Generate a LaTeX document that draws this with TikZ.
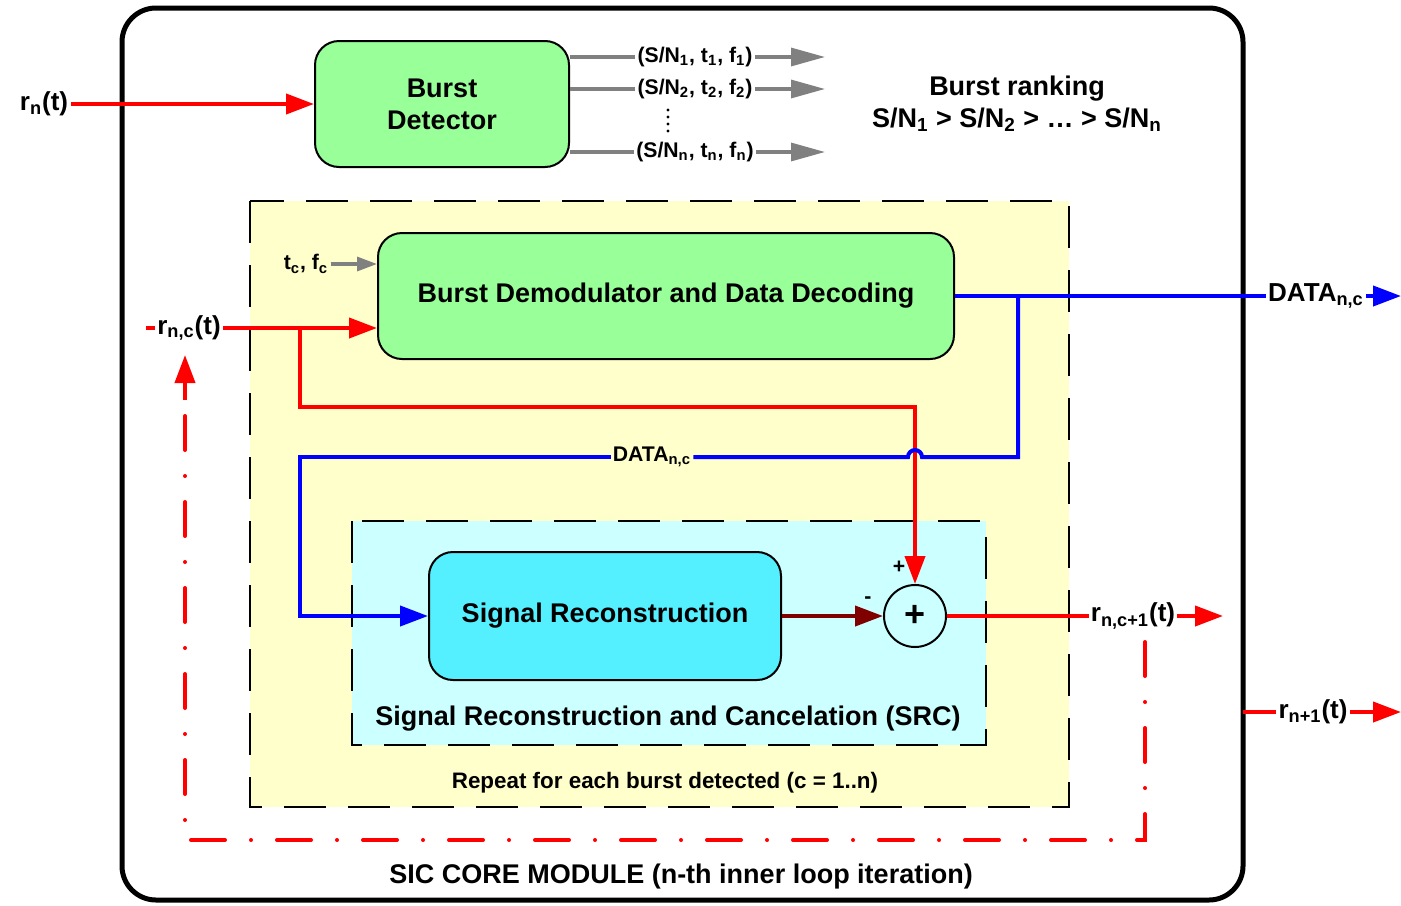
\documentclass[tikz,border=0pt]{standalone}
\usepackage{fontspec}
\setmainfont{Liberation Sans}
\usetikzlibrary{arrows.meta}
\definecolor{detgreen}{HTML}{99FF99}
\definecolor{reconcyan}{HTML}{55F0FF}
\definecolor{areayellow}{HTML}{FFFFCC}
\definecolor{areacyan}{HTML}{CCFFFF}
\definecolor{darkred}{HTML}{800000}
\definecolor{sigred}{HTML}{FF0000}
\definecolor{datablue}{HTML}{0000FF}
\definecolor{infogray}{HTML}{808080}
\tikzset{%
  >={Triangle[length=14pt,width=10pt]},
  % Specifications for style of nodes:
          base/.style = {rectangle, rounded corners=12pt, draw=black,
                         line width=1pt, text centered, align=center,
                         font=\bfseries\fontsize{13.5}{16}\selectfont},
      detector/.style = {base, fill=detgreen, minimum width=127pt,
                         minimum height=63pt},
         demod/.style = {base, fill=detgreen, minimum width=288pt,
                         minimum height=63pt},
         recon/.style = {base, fill=reconcyan, minimum width=176pt,
                         minimum height=64pt},
         adder/.style = {circle, draw=black, line width=1pt, minimum size=31pt,
                         inner sep=0pt, font=\bfseries\fontsize{18}{18}\selectfont},
        signal/.style = {inner sep=1pt, font=\bfseries\fontsize{13}{15}\selectfont},
         small/.style = {inner sep=1pt, font=\bfseries\fontsize{10.6}{12}\selectfont},
       caption/.style = {inner sep=1pt, font=\bfseries\fontsize{13.5}{15}\selectfont},
  % Specifications for style of lines:
        module/.style = {draw=black, line width=2.5pt, rounded corners=17pt},
   repeatarea/.style = {draw=black, fill=areayellow, line width=1.3pt,
                         dash pattern=on 21pt off 11pt},
       srcarea/.style = {draw=black, fill=areacyan, line width=1.3pt,
                         dash pattern=on 21pt off 11pt},
       redline/.style = {draw=sigred, line width=2pt},
      redarrow/.style = {redline, ->},
      blueline/.style = {draw=datablue, line width=2pt},
     bluearrow/.style = {blueline, ->},
      grayline/.style = {draw=infogray, line width=1.6pt},
     grayarrow/.style = {grayline, -{Triangle[length=17pt,width=9pt]}},
    darkarrow/.style = {draw=darkred, line width=2pt, ->},
      feedback/.style = {draw=sigred, line width=2pt, line cap=round,
                         dash pattern=on 17pt off 13pt on 0pt off 13pt},
}

\begin{document}
\begin{tikzpicture}[x=0.5pt, y=-0.5pt]
    \useasboundingbox (0,0) rectangle (1401,905);

    % module and loop areas
    \draw[module]     (122,8) rectangle (1243,900);
    \draw[repeatarea] (250,201) rectangle (1069,807);
    \draw[srcarea]    (352,521) rectangle (986,745);

    \node (sic)      [caption] at (681,877) {SIC CORE MODULE (n-th inner loop iteration)};
    \node (repeat)   [small, font=\bfseries\fontsize{11.2}{12}\selectfont]
                               at (665,783) {Repeat for each burst detected (c = 1..n)};
    \node (srclabel) [caption] at (668,719) {Signal Reconstruction and Cancelation (SRC)};

    % blocks
    \node (detector) [detector] at (442,104) {Burst\\Detector};
    \node (demod)    [demod]    at (666,296) {Burst Demodulator and Data Decoding};
    \node (recon)    [recon]    at (605,616) {Signal Reconstruction};
    \node (sum)      [adder]    at (915,616) {+};
    \node (plus)     [small]    at (899,567) {+};
    \node (minus)    [small]    at (868,600) {-};

    % burst detector
    \node (rn)       [signal]   at (44,104) {r\textsubscript{n}(t)};
    \draw[redarrow] (rn.east) -- (detector.west);

    \node (sn1) [small] at (695,57)  {(S/N\textsubscript{1}, t\textsubscript{1}, f\textsubscript{1})};
    \node (sn2) [small] at (695,89)  {(S/N\textsubscript{2}, t\textsubscript{2}, f\textsubscript{2})};
    \node (snn) [small] at (695,152) {(S/N\textsubscript{n}, t\textsubscript{n}, f\textsubscript{n})};
    \foreach \y in {110,117,124,131}
        \fill[black] (668,\y) circle[radius=1.6];
    \coordinate (out1) at (825,57);
    \coordinate (out2) at (825,89);
    \coordinate (outn) at (825,152);
    \foreach \s/\o in {sn1/out1, sn2/out2, snn/outn} {
        \draw[grayline] (detector.east |- \s) -- (\s.west);
        \draw[grayarrow] (\s.east) -- (\o);
    }
    \node (ranking) [caption, align=center, font=\bfseries\fontsize{13.5}{16}\selectfont]
        at (1017,104) {Burst ranking\\S/N\textsubscript{1} > S/N\textsubscript{2} > \dots\ > S/N\textsubscript{n}};

    % demodulator inputs
    \node (tcfc) [small] at (306,264) {t\textsubscript{c}, f\textsubscript{c}};
    \draw[grayline, -{Triangle[length=10pt,width=7pt]}]
        (tcfc.east) -- (tcfc.east -| demod.west);

    \node (rnc) [signal] at (189,328) {r\textsubscript{n,c}(t)};
    \coordinate (rncin) at (146,328);
    \draw[redline] (rncin) -- (rnc.west);
    \draw[redarrow] (rnc.east) -- (rnc.east -| demod.west);
    \coordinate (split) at (300,328);
    \draw[redarrow] (split) -- (300,407) -| (sum.north);

    % decoded data
    \node (dataout) [signal] at (1316,296) {DATA\textsubscript{n,c}};
    \coordinate (dataend) at (1401,296);
    \draw[blueline] (demod.east) -- (dataout.west);
    \draw[bluearrow] (dataout.east) -- (dataend);

    \node (datain) [small, fill=areayellow] at (652,457) {DATA\textsubscript{n,c}};
    \coordinate (tap) at (1018,296);
    \draw[blueline] (tap) -- (1018,457) -- (922,457)
        arc[start angle=0, end angle=-180, radius=7] -- (datain.east);
    \draw[bluearrow] (datain.west) -- (300,457) |- (recon.west);

    % cancellation
    \draw[darkarrow] (recon.east) -- (sum.west);

    \node (rnc1) [signal] at (1133,616) {r\textsubscript{n,c+1}(t)};
    \coordinate (rnc1end) at (1223,616);
    \draw[redline] (sum.east) -- (rnc1.west);
    \draw[redarrow] (rnc1.east) -- (rnc1end);

    % next iteration of the inner loop
    \coordinate (loopstart) at (1145,642);
    \coordinate (loopend)   at (185,355);
    \draw[feedback] (loopstart) -- (1145,840) -- (185,840) -- (185,385);
    \draw[redline, ->] (185,400) -- (loopend);

    % module output
    \node (rn1) [signal] at (1313,712) {r\textsubscript{n+1}(t)};
    \coordinate (exit)  at (1243,712);
    \coordinate (rn1end) at (1401,712);
    \draw[redline] (exit) -- (rn1.west);
    \draw[redarrow] (rn1.east) -- (rn1end);

\end{tikzpicture}
\end{document}
